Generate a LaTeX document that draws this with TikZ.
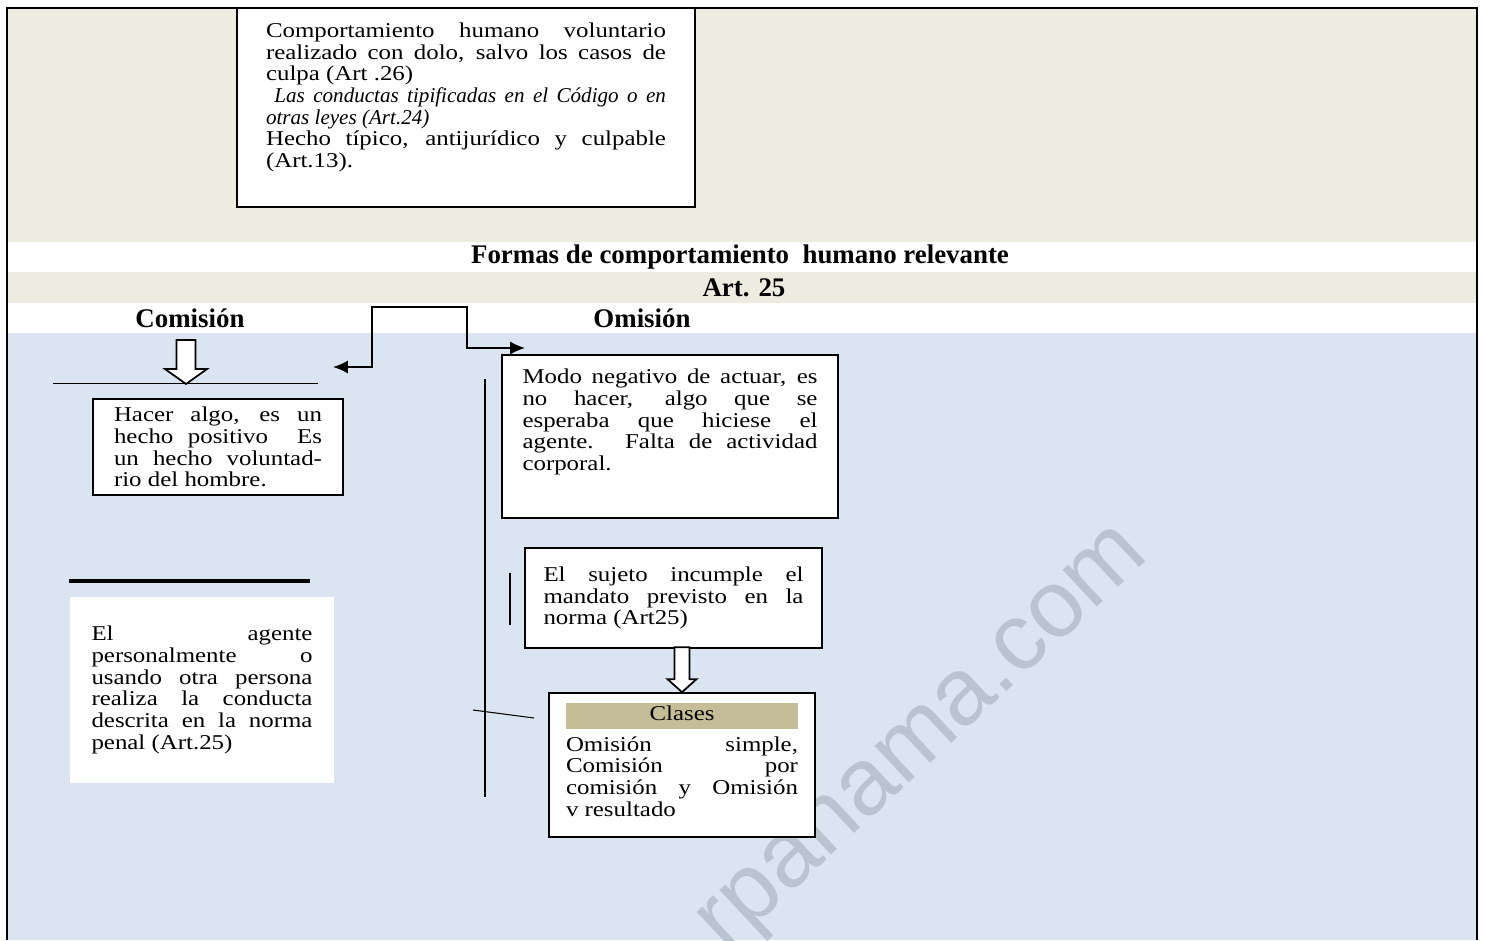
\documentclass[tikz,border=0pt]{standalone}
\usepackage{fontspec}
\usepackage{tikz}
\setmainfont{Liberation Serif}
\newfontfamily\garafont{Liberation Serif}[FakeStretch=1.18]
\newfontfamily\marcafont{Liberation Sans}
\definecolor{beige}{HTML}{EEECE1}
\definecolor{celeste}{HTML}{DBE5F1}
\definecolor{tostado}{HTML}{C4BD97}
\definecolor{grismarca}{HTML}{BAC4D0}
\usetikzlibrary{arrows.meta}
\tikzset{
  >={Latex[length=8.5pt,width=7.5pt]},
  x=0.02cm, y=-0.02cm,
}
\tikzstyle{caja}=[draw,line width=1pt,fill=white,align=justify,inner ysep=0pt,font=\garafont\fontsize{12}{12.35}\selectfont]
\tikzstyle{cajasin}=[caja,draw=none]
\tikzstyle{titulo}=[font=\bfseries\fontsize{15.3}{18}\selectfont]
\tikzstyle{hueca}=[line width=1pt,fill=white,line join=miter]
\tikzstyle{conector}=[line width=1pt]
\tikzstyle{marca}=[text=grismarca,font=\marcafont\fontsize{54}{60}\selectfont]

\begin{document}
\begin{tikzpicture}
    \useasboundingbox (0,0) rectangle (1486,940);
    % fondos
    \fill[white] (0,0) rectangle (1486,940);
    \fill[beige] (7,8) rectangle (1477,242);
    \fill[beige] (7,272) rectangle (1477,303);
    \fill[celeste] (7,333) rectangle (1477,940);
    \node[marca,rotate=43] (agua) at (928,744) {rpanama.com};
    % definicion
    \node[caja,text width=8cm,inner xsep=0.58cm,minimum height=3.98cm] (definicion) at (466,107.5)
      {Comportamiento humano voluntario\linebreak realizado con dolo, salvo los casos de\linebreak culpa (Art .26)\par
       {\rmfamily\itshape\ Las conductas tipificadas en el Código o en\linebreak otras leyes (Art.24)}\par
       Hecho típico, antijurídico y culpable\linebreak (Art.13).\par\rule{0pt}{10.4pt}};
    \node[titulo] (formas) at (740,257) {Formas de comportamiento\ \ humano relevante};
    \node[titulo] (art) at (744,288) {Art. 25};
    \node[titulo] (comision) at (190,318) {Comisión};
    \node[titulo] (omision) at (642,318) {Omisión};
    % conector entre las dos formas
    \coordinate (izq) at (333,367);
    \coordinate (der) at (525,348);
    \draw[conector,<->] (izq) -| (372,307) -- (467,307) |- (der);
    % comision
    \coordinate (cbase w) at (53,383);
    \coordinate (cbase e) at (318,383);
    \coordinate (ctip) at (186,384);
    \draw (cbase w) -- (cbase e);
    \draw[hueca] (ctip) -- ++(21,-15) -- ++(-11.5,0) -- ++(0,-29) -- ++(-19,0) -- ++(0,29) -- ++(-11.5,0) -- cycle;
    \node[caja,text width=4.16cm,inner xsep=0.42cm,minimum height=1.92cm] (hacer) at (218,447)
      {Hacer algo, es un\linebreak hecho positivo\ \ Es\linebreak un hecho voluntad-\linebreak rio del hombre.};
    \draw[line width=2.3pt] (69,581) -- (310,581);
    \node[cajasin,text width=4.42cm,inner xsep=0.43cm,minimum height=3.72cm] (agente) at (202,690)
      {El agente\linebreak personalmente o\linebreak usando otra persona\linebreak realiza la conducta\linebreak descrita en la norma\linebreak penal (Art.25)};
    % omision
    \draw[semithick] (485,379) -- (485,797);
    \draw[semithick] (510,573) -- (510,625);
    \draw[semithick] (473,710) -- (534,718);
    \node[caja,text width=5.9cm,inner xsep=0.41cm,minimum height=3.26cm] (modo) at (670,436.5)
      {Modo negativo de actuar, es\linebreak no hacer, algo que se\linebreak esperaba que hiciese el\linebreak agente. Falta de actividad\linebreak corporal.\par\rule{0pt}{15.5pt}};
    \node[caja,text width=5.2cm,inner xsep=0.37cm,minimum height=2cm] (sujeto) at (673.5,598)
      {El sujeto incumple el\linebreak mandato previsto en la\linebreak norma (Art25)};
    \node[caja,text width=4.64cm,inner xsep=0.34cm,text height=0.552cm,text depth=2.328cm] (clases) at (682,765)
      {{\fboxsep=0pt\colorbox{tostado}{\makebox[\linewidth]{\rule[-5pt]{0pt}{15pt}Clases}}}\par\vspace{3pt}
       Omisión simple,\linebreak Comisión por\linebreak comisión y Omisión\linebreak v resultado};
    \draw[hueca] (clases.north) -- ++(14.5,-13) -- ++(-7,0) -- ++(0,-32) -- ++(-15,0) -- ++(0,32) -- ++(-7,0) -- cycle;
    % marco
    \draw[line width=1pt] (7,940) -- (7,8) -- (1477,8) -- (1477,940);
\end{tikzpicture}
\end{document}
